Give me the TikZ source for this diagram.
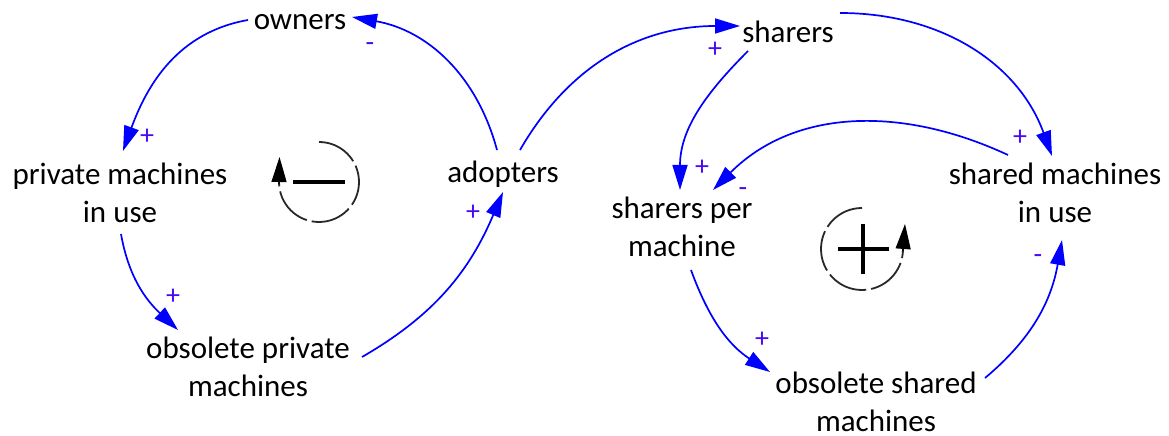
\documentclass[tikz,border=0pt]{standalone}
\usepackage{fontspec}
\setmainfont{Carlito}
\usetikzlibrary{arrows.meta}
\definecolor{linkblue}{RGB}{0,0,255}
\definecolor{signblue}{RGB}{70,10,245}
\definecolor{loopgray}{RGB}{40,40,40}
\begin{document}
\begin{tikzpicture}[x=1pt,y=1pt,
  var/.style={anchor=base, align=center, inner sep=0pt, font=\fontsize{31}{38}\selectfont},
  link/.style={draw=linkblue, line width=1.7pt, -{Triangle[length=25pt,width=15pt]}},
  sign/.style={text=signblue, inner sep=0pt, font=\fontsize{28}{30}\selectfont},
  loopline/.style={draw=loopgray, line width=1.8pt, dash pattern=on 41pt off 5pt},
  looptip/.style={draw=black, line width=1.2pt, -{Triangle[length=25pt,width=15pt]}},
  loopmark/.style={draw=black, line width=3.5pt}]
\useasboundingbox (0,0) rectangle (1169,436);

% variables
\node[var] (owners)  at (300,406) {owners};
\node[var] (private) at (120,213) {private machines\\in use};
\node[var] (adopters) at (503,253) {adopters};
\node[var] (oldpriv) at (248,39) {obsolete private\\machines};
\node[var] (sharers) at (788,393) {sharers};
\node[var] (perm)    at (682,179) {sharers per\\machine};
\node[var] (shared)  at (1055,213) {shared machines\\in use};
\node[var] (oldshar) at (876,5) {obsolete shared\\machines};

% causal links
\draw[link] ([shift={(-6,33)}]adopters.base) to[out=105,in=-10] ([shift={(52,13)}]owners.base);
\draw[link] ([shift={(-52,10)}]owners.base) to[out=190,in=70] ([shift={(3,72)}]private.base);
\draw[link] ([shift={(1,-11)}]private.base) to[out=280,in=137] ([shift={(-70,67)}]oldpriv.base);
\draw[link] ([shift={(114,40)}]oldpriv.base) to[out=30,in=247] ([shift={(0,-9)}]adopters.base);
\draw[link] ([shift={(17,33)}]adopters.base) to[out=60,in=180] ([shift={(-48,17)}]sharers.base);
\draw[link] ([shift={(-40,-8)}]sharers.base) to[out=225,in=90] ([shift={(-2,67)}]perm.base);
\draw[link] ([shift={(52,30)}]sharers.base) to[out=0,in=110] ([shift={(-3,67)}]shared.base);
\draw[link] ([shift={(-47,68)}]shared.base) to[out=155,in=45] ([shift={(31,67)}]perm.base);
\draw[link] ([shift={(9,-13)}]perm.base) to[out=290,in=147] ([shift={(-106,59)}]oldshar.base);
\draw[link] ([shift={(109,53)}]oldshar.base) to[out=40,in=260] ([shift={(7,-17)}]shared.base);

% polarities
\node[sign] (s1)  at (370,389) {-};
\node[sign] (s2)  at (147,299) {+};
\node[sign] (s3)  at (173,139) {+};
\node[sign] (s4)  at (473,223) {+};
\node[sign] (s5)  at (715,386) {+};
\node[sign] (s6)  at (702,268) {+};
\node[sign] (s7)  at (743,244) {-};
\node[sign] (s8)  at (1020,298) {+};
\node[sign] (s9)  at (1038,177) {-};
\node[sign] (s10) at (762,96) {+};

% balancing loop marker
\draw[loopline] (319,294) arc[start angle=90, end angle=-180, radius=40];
\draw[looptip] (279,252) -- (279.5,279);
\draw[loopmark] (293,254) -- (345,254);

% reinforcing loop marker
\draw[loopline] (862,228) arc[start angle=90, end angle=360, radius=41];
\draw[looptip] (903,185) -- (905,212);
\draw[loopmark] (838,187) -- (889,187);
\draw[loopmark] (863,212) -- (863,162);
\end{tikzpicture}
\end{document}
